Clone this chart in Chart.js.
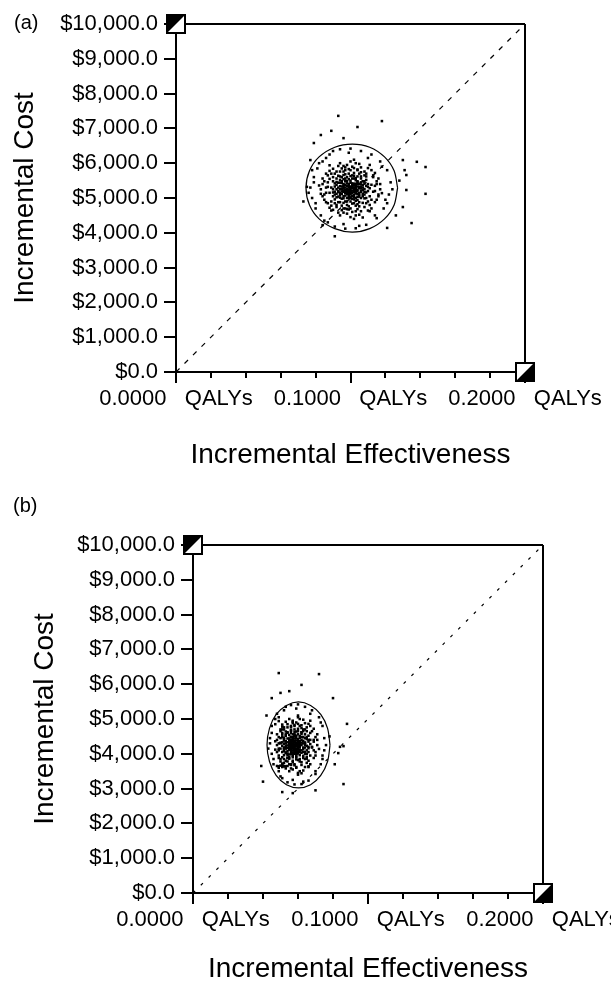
<!DOCTYPE html>
<html>
<head>
<meta charset="utf-8">
<script src="https://cdn.jsdelivr.net/npm/chart.js@4.4.0/dist/chart.umd.min.js"></script>
<style>
  html, body { margin: 0; padding: 0; background: #fff; overflow: hidden; }
  body { width: 611px; height: 982px; position: relative; font-family: "Liberation Sans", Arial, sans-serif; }
  canvas { position: absolute; left: 0; }
  #chartA { top: 0; }
  #chartB { top: 480px; }
  .panel-label { position: absolute; font-size: 20px; line-height: 20px; color: #000; }
</style>
</head>
<body>
<canvas id="chartA" width="611" height="480"></canvas>
<canvas id="chartB" width="611" height="520"></canvas>
<div class="panel-label" style="left:14px;top:12px">(a)</div>
<div class="panel-label" style="left:13px;top:495px">(b)</div>
<script>
// Axis ticks
const costTicks = [0, 1000, 2000, 3000, 4000, 5000, 6000, 7000, 8000, 9000, 10000];
const costTickLabels = ['$0.0', '$1,000.0', '$2,000.0', '$3,000.0', '$4,000.0', '$5,000.0',
  '$6,000.0', '$7,000.0', '$8,000.0', '$9,000.0', '$10,000.0'];
const effTicks = [0, 0.1, 0.2];
const effTickLabels = ['0.0000 QALYs', '0.1000 QALYs', '0.2000 QALYs'];
const effMinorTicks = [0.02, 0.04, 0.06, 0.08, 0.12, 0.14, 0.16, 0.18];

// Willingness-to-pay line (corner to corner)
const thresholdLine = [[0, 0], [0.2, 10000]];

// Confidence ellipse outlines [QALYs, $]
const ellipseA = [[.127,5290],[.125,5780],[.1195,6180],[.111,6460],[.101,6550],[.091,6460],[.082,6180],[.0765,5780],
  [.0745,5290],[.0765,4800],[.082,4400],[.091,4120],[.101,4020],[.111,4120],[.1195,4400],[.125,4800]];
const ellipseB = [[.0783,4250],[.0769,4730],[.073,5130],[.0672,5390],[.0603,5490],[.0534,5390],[.0475,5130],[.0437,4730],
  [.0423,4250],[.0437,3780],[.0475,3380],[.0534,3110],[.0603,3020],[.0672,3110],[.073,3380],[.0769,3780]];

// Simulation points, panel (a)
const pointsA = [
  [.100,5250],[.097,5300],[.103,5200],[.099,5120],[.101,5380],[.096,5180],[.104,5330],[.098,5420],[.102,5080],[.100,5150],
  [.097,5070],[.103,5410],[.099,5350],[.101,5210],[.096,5400],[.104,5110],[.098,5260],[.102,5300],[.100,5440],[.097,5230],
  [.103,5280],[.099,5060],[.101,5140],[.098,5190],[.102,5360],[.100,5330],[.096,5290],[.104,5240],[.099,5210],[.102,5170],
  [.098,5340],[.101,5290],[.099,5240],[.102,5220],[.097,5150],[.103,5340],[.100,5100],[.096,5350],[.104,5190],[.098,5110],
  [.101,5420],[.099,5300],[.102,5250],[.097,5380],[.103,5130],[.100,5200],[.095,5260],[.105,5280],[.098,5230],[.101,5060],
  [.099,5400],[.102,5410],[.097,5190],[.103,5240],[.100,5300],[.096,5220],[.104,5400],[.098,5160],[.101,5330],[.099,5170],
  [.094,5340],[.106,5210],[.095,5430],[.105,5090],[.093,5170],[.107,5300],[.096,5050],[.104,5460],[.092,5250],[.108,5180],
  [.097,5500],[.103,5000],[.098,5480],[.102,5030],[.094,5080],[.106,5390],[.095,5190],[.105,5410],[.100,5500],[.100,4990],
  [.090,5250],[.091,5100],[.092,5380],[.093,5200],[.094,5520],[.095,4980],[.094,5010],[.092,5460],[.091,5330],[.093,5040],
  [.095,5600],[.096,4860],[.097,5680],[.098,4800],[.099,5540],[.100,4900],[.101,5650],[.102,4850],[.103,5570],[.104,4940],
  [.105,5700],[.106,5000],[.107,5480],[.108,5100],[.109,5350],[.110,5200],[.111,5280],[.108,5420],[.107,5050],[.106,5560],
  [.105,4880],[.109,5160],[.110,5400],[.106,5320],[.107,5230],[.105,5140],[.106,5450],[.108,4990],[.109,5520],[.104,5620],
  [.103,4780],[.102,5720],[.101,4840],[.100,5630],[.099,4760],[.098,5600],[.097,4900],[.096,5540],[.095,5330],[.094,5150],
  [.093,5300],[.092,5120],[.091,5420],[.090,5050],[.089,5300],[.090,5480],[.091,4960],[.092,5560],[.093,4880],[.094,5620],
  [.105,5320],[.106,5180],[.107,5370],[.104,5030],[.103,5510],[.095,5120],[.096,4990],[.097,5480],[.098,5000],[.099,5700],
  [.101,4980],[.102,5560],[.100,5020],[.108,5260],[.109,5000],[.091,5180],[.094,5440],[.096,5660],[.104,5480],[.102,4960],
  [.088,5150],[.087,5450],[.089,4900],[.090,5600],[.111,5050],[.112,5380],[.110,4900],[.109,5620],[.095,4780],[.105,4760],
  [.094,5760],[.106,5740],[.086,5300],[.114,5200],[.100,4700],[.100,5800],[.091,4850],[.109,4850],[.091,5700],[.109,5700],
  [.085,5100],[.115,5400],[.088,5550],[.112,4950],[.096,4700],[.104,5800],[.093,5640],[.107,4860],[.098,4680],[.102,5860],
  [.084,5400],[.116,5100],[.087,4850],[.113,5600],[.097,5880],[.103,4620],[.089,5700],[.111,4800],[.092,4800],[.108,5650],
  [.090,5160],[.110,5320],[.092,5020],[.108,5480],[.094,4880],[.106,5620],[.096,5760],[.104,4820],[.098,4900],[.102,5640],
  [.093,5440],[.107,5120],[.095,5480],[.105,5040],[.097,5560],[.103,4920],[.099,5000],[.101,5560],[.094,5250],[.106,5280],
  [.083,5250],[.084,5050],[.085,5480],[.086,4880],[.087,5650],[.082,5360],[.084,5560],[.086,5150],[.085,4950],[.088,5780],
  [.088,4720],[.087,5320],[.083,5120],[.086,5700],[.089,4640],
  [.117,5250],[.116,5050],[.115,5480],[.114,4880],[.113,5650],[.118,5140],[.116,5560],[.114,5350],[.115,4950],[.112,5800],
  [.112,4700],[.113,5180],[.117,5400],[.114,5720],[.111,4620],
  [.095,5850],[.098,5950],[.101,5900],[.104,5820],[.092,5760],[.100,6050],[.097,5800],[.103,6000],[.106,5880],[.094,6000],
  [.108,5760],[.099,5830],[.102,6100],[.096,5920],[.105,5980],[.090,5840],[.110,5860],[.093,5920],
  [.095,4650],[.098,4550],[.101,4600],[.104,4680],[.092,4740],[.100,4450],[.097,4700],[.103,4500],[.106,4620],[.094,4500],
  [.108,4740],[.099,4670],[.102,4400],[.096,4580],[.105,4520],[.090,4660],[.110,4640],[.093,4580],[.107,4440],[.089,4780],
  [.111,5950],[.088,5940],
  [.077,5300],[.078,5000],[.079,5600],[.080,4700],[.081,5850],[.083,4500],[.084,6050],[.087,4300],[.088,6250],[.091,4180],
  [.094,6400],[.097,4120],[.100,6420],[.103,4130],[.106,6350],[.109,4230],[.112,6250],[.115,4420],[.117,6050],[.119,4700],
  [.121,5800],[.122,5100],[.123,5450],[.120,4950],[.078,5800],[.080,4850],[.076,5150],[.082,6000],[.085,4350],[.090,6350],
  [.096,4250],[.099,6300],[.105,4200],[.110,6150],[.114,4500],[.118,5900],[.124,5250],[.121,4850],[.079,5450],[.086,6150],
  [.093,7360],[.104,7040],[.118,7210],[.083,6810],[.089,6930],[.096,6720],[.079,6580],[.130,6090],[.138,6040],[.143,5890],
  [.131,5800],[.132,5660],[.132,5230],[.143,5120],[.130,4740],[.135,4280],[.121,4140],[.084,4220],[.075,5320],[.077,6090],
  [.128,5500],[.126,4500],[.073,4900],[.091,3900]
];

// Simulation points, panel (b)
const pointsB = [
  [.058,4230],[.056,4300],[.060,4180],[.057,4100],[.059,4380],[.055,4200],[.061,4330],[.057,4420],[.059,4060],[.058,4150],
  [.056,4080],[.060,4400],[.057,4350],[.059,4210],[.055,4390],[.061,4110],[.058,4270],[.060,4290],[.058,4440],[.056,4230],
  [.060,4260],[.057,4040],[.059,4140],[.056,4180],[.061,4360],[.058,4320],[.055,4290],[.061,4240],[.057,4210],[.060,4130],
  [.057,4270],[.059,4250],[.058,4190],[.056,4340],[.060,4220],[.057,4160],[.059,4310],[.058,4380],[.055,4250],[.061,4190],
  [.056,4140],[.060,4340],[.057,4300],[.059,4100],[.058,4060],[.056,4400],[.060,4070],[.057,4230],[.059,4450],[.055,4130],
  [.061,4280],[.054,4240],[.062,4250],[.053,4360],[.063,4300],[.054,4080],[.062,4100],[.056,4480],[.060,4010],[.058,4500],
  [.055,3980],[.061,4460],[.057,3950],[.059,4520],[.053,4230],[.063,4060],[.054,4170],[.062,4400],[.056,4030],[.060,4420],
  [.055,4330],[.061,4050],[.057,4390],[.059,3990],[.058,4110],[.052,4290],[.064,4180],[.056,4260],[.060,4160],[.058,4360],
  [.050,4150],[.050,4450],[.051,3900],[.051,4600],[.066,4050],[.066,4400],[.065,3900],[.065,4650],[.054,3780],[.062,3760],
  [.054,4760],[.062,4740],[.049,4300],[.068,4200],[.058,3700],[.058,4800],[.052,3850],[.064,3850],[.052,4700],[.064,4700],
  [.049,4100],[.069,4400],[.051,4550],[.067,3950],[.055,3700],[.061,4800],[.053,4640],[.065,3860],[.056,3680],[.060,4860],
  [.048,4400],[.069,4100],[.050,3850],[.067,4600],[.057,4880],[.059,3620],[.051,4700],[.066,3800],[.053,3800],[.063,4650],
  [.052,4160],[.064,4320],[.053,4020],[.063,4480],[.054,3880],[.062,4620],[.056,4760],[.060,3820],[.057,3900],[.059,4640],
  [.055,4440],[.061,4120],[.056,4480],[.060,4040],[.057,4560],[.059,3920],[.058,4000],[.058,4560],[.055,4250],[.061,4280],
  [.051,4230],[.052,4080],[.052,4380],[.053,4180],[.053,4520],[.054,3960],[.054,4010],[.052,4460],[.051,4330],[.053,4040],
  [.054,4600],[.055,3860],[.056,4680],[.057,3800],[.058,4540],[.059,3900],[.060,4650],[.061,3850],[.062,4570],[.063,3940],
  [.063,4700],[.064,4000],[.065,4480],[.065,4100],[.066,4350],[.066,4200],[.067,4280],[.065,4420],[.064,4050],[.064,4560],
  [.063,3880],[.066,4160],[.067,4400],[.064,4320],[.065,4230],[.063,4140],[.064,4450],[.065,3990],[.066,4520],[.062,4620],
  [.061,3780],[.060,4720],[.059,3840],[.058,4630],[.057,3760],[.056,4600],[.055,3900],[.055,4540],[.054,4330],[.053,4150],
  [.053,4300],[.052,4120],[.052,4420],[.051,4050],[.050,4300],[.051,4480],[.052,3960],[.053,4560],[.054,3880],[.054,4620],
  [.062,4320],[.063,4180],[.063,4370],[.062,4030],[.061,4510],[.055,4120],[.056,3990],[.057,4480],[.057,4000],[.058,4700],
  [.059,3980],[.060,4560],[.059,4020],[.064,4260],[.065,4000],[.052,4180],[.054,4440],[.056,4660],[.062,4480],[.061,3960],
  [.048,3650],[.049,3640],[.050,3660],[.051,3620],[.052,3650],[.053,3640],[.049,3600],[.051,3680],
  [.048,4250],[.048,4050],[.049,4480],[.049,3880],[.050,4650],[.047,4360],[.048,4560],[.049,4150],[.049,3950],[.051,4780],
  [.051,3720],[.050,4320],[.047,4120],[.050,4700],[.052,3640],
  [.071,4250],[.070,4050],[.070,4480],[.069,3880],[.068,4650],[.072,4140],[.071,4560],[.069,4350],[.070,3950],[.067,4800],
  [.067,3700],[.068,4180],[.071,4400],[.069,4720],[.066,3620],
  [.054,4850],[.057,4950],[.059,4900],[.062,4820],[.052,4760],[.060,5050],[.056,4800],[.061,5000],[.064,4880],[.055,5000],
  [.065,4760],[.058,4830],[.060,5100],[.057,4920],[.063,4980],[.051,4840],[.066,4860],[.053,4920],
  [.054,3650],[.057,3550],[.059,3600],[.062,3680],[.052,3740],[.060,3450],[.056,3700],[.061,3500],[.064,3620],[.055,3500],
  [.065,3740],[.058,3670],[.060,3400],[.056,3580],[.063,3520],[.051,3660],[.066,3640],[.053,3580],[.062,3440],[.050,3780],
  [.067,4950],[.049,4940],
  [.044,4300],[.045,4000],[.045,4600],[.046,3700],[.047,4850],[.049,3500],[.049,5050],[.051,3300],[.052,5250],[.054,3180],
  [.056,5400],[.058,3120],[.060,5420],[.062,3130],[.064,5350],[.066,3230],[.068,5250],[.070,3420],[.072,5050],[.073,3700],
  [.074,4800],[.075,4100],[.075,4450],[.074,3950],[.045,4800],[.046,3850],[.043,4150],[.047,5000],[.050,3350],[.053,5350],
  [.057,3250],[.059,5300],[.063,3200],[.067,5150],[.070,3500],[.073,4900],[.076,4250],[.074,3850],[.044,4450],[.048,5150],
  [.049,6320],[.072,6290],[.062,5980],[.045,5600],[.050,5750],[.080,5600],[.088,4860],[.084,4200],[.086,4220],[.083,4020],
  [.039,3650],[.086,3130],[.051,2900],[.057,2870],[.078,4500],[.042,5100],[.040,3200],[.070,2950],[.081,3700],[.055,5800]
];

Chart.defaults.font.family = '"Liberation Sans", Arial, sans-serif';
Chart.defaults.color = '#000';

// Half-filled square handles at the ends of the threshold line
function makeMarker(blackCorner) {
  const c = document.createElement('canvas');
  c.width = 20;
  c.height = 20;
  const g = c.getContext('2d');
  g.fillStyle = '#fff';
  g.fillRect(0, 0, 20, 20);
  g.fillStyle = '#000';
  g.beginPath();
  if (blackCorner === 'topLeft') {
    g.moveTo(0, 0); g.lineTo(20, 0); g.lineTo(0, 20);
  } else {
    g.moveTo(20, 0); g.lineTo(20, 20); g.lineTo(0, 20);
  }
  g.closePath();
  g.fill();
  g.strokeStyle = '#000';
  g.lineWidth = 2;
  g.strokeRect(1, 1, 18, 18);
  return c;
}
const markerTL = makeMarker('topLeft');
const markerBR = makeMarker('bottomRight');

// Short unlabelled ticks between the labelled x ticks
const minorTicks = {
  id: 'minorTicks',
  afterDraw(chart) {
    const x = chart.scales.x;
    const ctx = chart.ctx;
    ctx.save();
    ctx.strokeStyle = '#000';
    ctx.lineWidth = 2;
    ctx.beginPath();
    effMinorTicks.forEach(v => {
      const px = Math.round(x.getPixelForValue(v));
      ctx.moveTo(px, x.top + 1);
      ctx.lineTo(px, x.top + 6);
    });
    ctx.stroke();
    ctx.restore();
  }
};

const toXY = arr => arr.map(([x, y]) => ({ x, y }));

function buildChart(id, panel) {
  return new Chart(document.getElementById(id), {
    type: 'scatter',
    data: {
      datasets: [
        { data: [{ x: 0, y: 10000 }], pointStyle: markerTL, pointRadius: 10, clip: false },
        { data: [{ x: 0.2, y: 0 }], pointStyle: markerBR, pointRadius: 10, clip: false },
        {
          data: toXY(panel.ellipse.concat([panel.ellipse[0]])),
          showLine: true, borderColor: '#000', borderWidth: 1.2, pointRadius: 0, tension: 0.3
        },
        {
          data: toXY(panel.points),
          pointStyle: 'rect', pointRadius: 1.8, backgroundColor: '#000', pointBorderWidth: 0
        },
        {
          data: toXY(thresholdLine),
          showLine: true, borderColor: '#000', borderWidth: 1.2, borderDash: panel.dash, pointRadius: 0
        }
      ]
    },
    options: {
      responsive: false,
      animation: false,
      events: [],
      devicePixelRatio: 1,
      layout: { padding: { left: 0, top: panel.top, right: panel.right, bottom: 0 } },
      plugins: { legend: { display: false }, tooltip: { enabled: false } },
      scales: {
        x: {
          type: 'linear',
          min: 0,
          max: 0.2,
          afterBuildTicks: s => { s.ticks = effTicks.map(v => ({ value: v })); },
          afterFit: s => { s.height = panel.xAxisHeight; s.paddingLeft = 0; s.paddingRight = 0; },
          ticks: {
            autoSkip: false, maxRotation: 0, minRotation: 0, padding: 3,
            font: { size: 22 },
            // the source draws a wide gap before the unit
            callback: (v, i) => effTickLabels[i].replace(' ', '   ')
          },
          grid: {
            drawOnChartArea: true,
            color: c => (c.tick && Math.abs(c.tick.value - 0.2) < 1e-9) ? '#000' : 'rgba(0,0,0,0)',
            tickColor: '#000', lineWidth: 2, tickWidth: 2, tickLength: 11
          },
          border: { color: '#000', width: 2 },
          title: {
            display: true, text: 'Incremental Effectiveness',
            font: { size: 28 }, padding: { top: 0, bottom: panel.xTitlePad }
          }
        },
        y: {
          type: 'linear',
          min: 0,
          max: 10000,
          afterBuildTicks: s => { s.ticks = costTicks.map(v => ({ value: v })); },
          afterFit: s => { s.width = panel.yAxisWidth; },
          ticks: {
            autoSkip: false, padding: 6,
            font: { size: 22 },
            callback: (v, i) => costTickLabels[i]
          },
          grid: {
            drawOnChartArea: true,
            color: c => (c.tick && c.tick.value === 10000) ? '#000' : 'rgba(0,0,0,0)',
            tickColor: '#000', lineWidth: 2, tickWidth: 2, tickLength: 12
          },
          border: { color: '#000', width: 2 },
          title: {
            display: true, text: 'Incremental Cost',
            font: { size: 28 }, padding: { top: panel.yTitlePad, bottom: 0 }
          }
        }
      }
    },
    plugins: [minorTicks]
  });
}

buildChart('chartA', {
  ellipse: ellipseA, points: pointsA, dash: [5, 7],
  top: 24, right: 86, yAxisWidth: 176, xAxisHeight: 108, xTitlePad: 8, yTitlePad: 8.5
});
buildChart('chartB', {
  ellipse: ellipseB, points: pointsB, dash: [3, 8],
  top: 65, right: 68, yAxisWidth: 193, xAxisHeight: 107, xTitlePad: 14, yTitlePad: 28.5
});
</script>
</body>
</html>
